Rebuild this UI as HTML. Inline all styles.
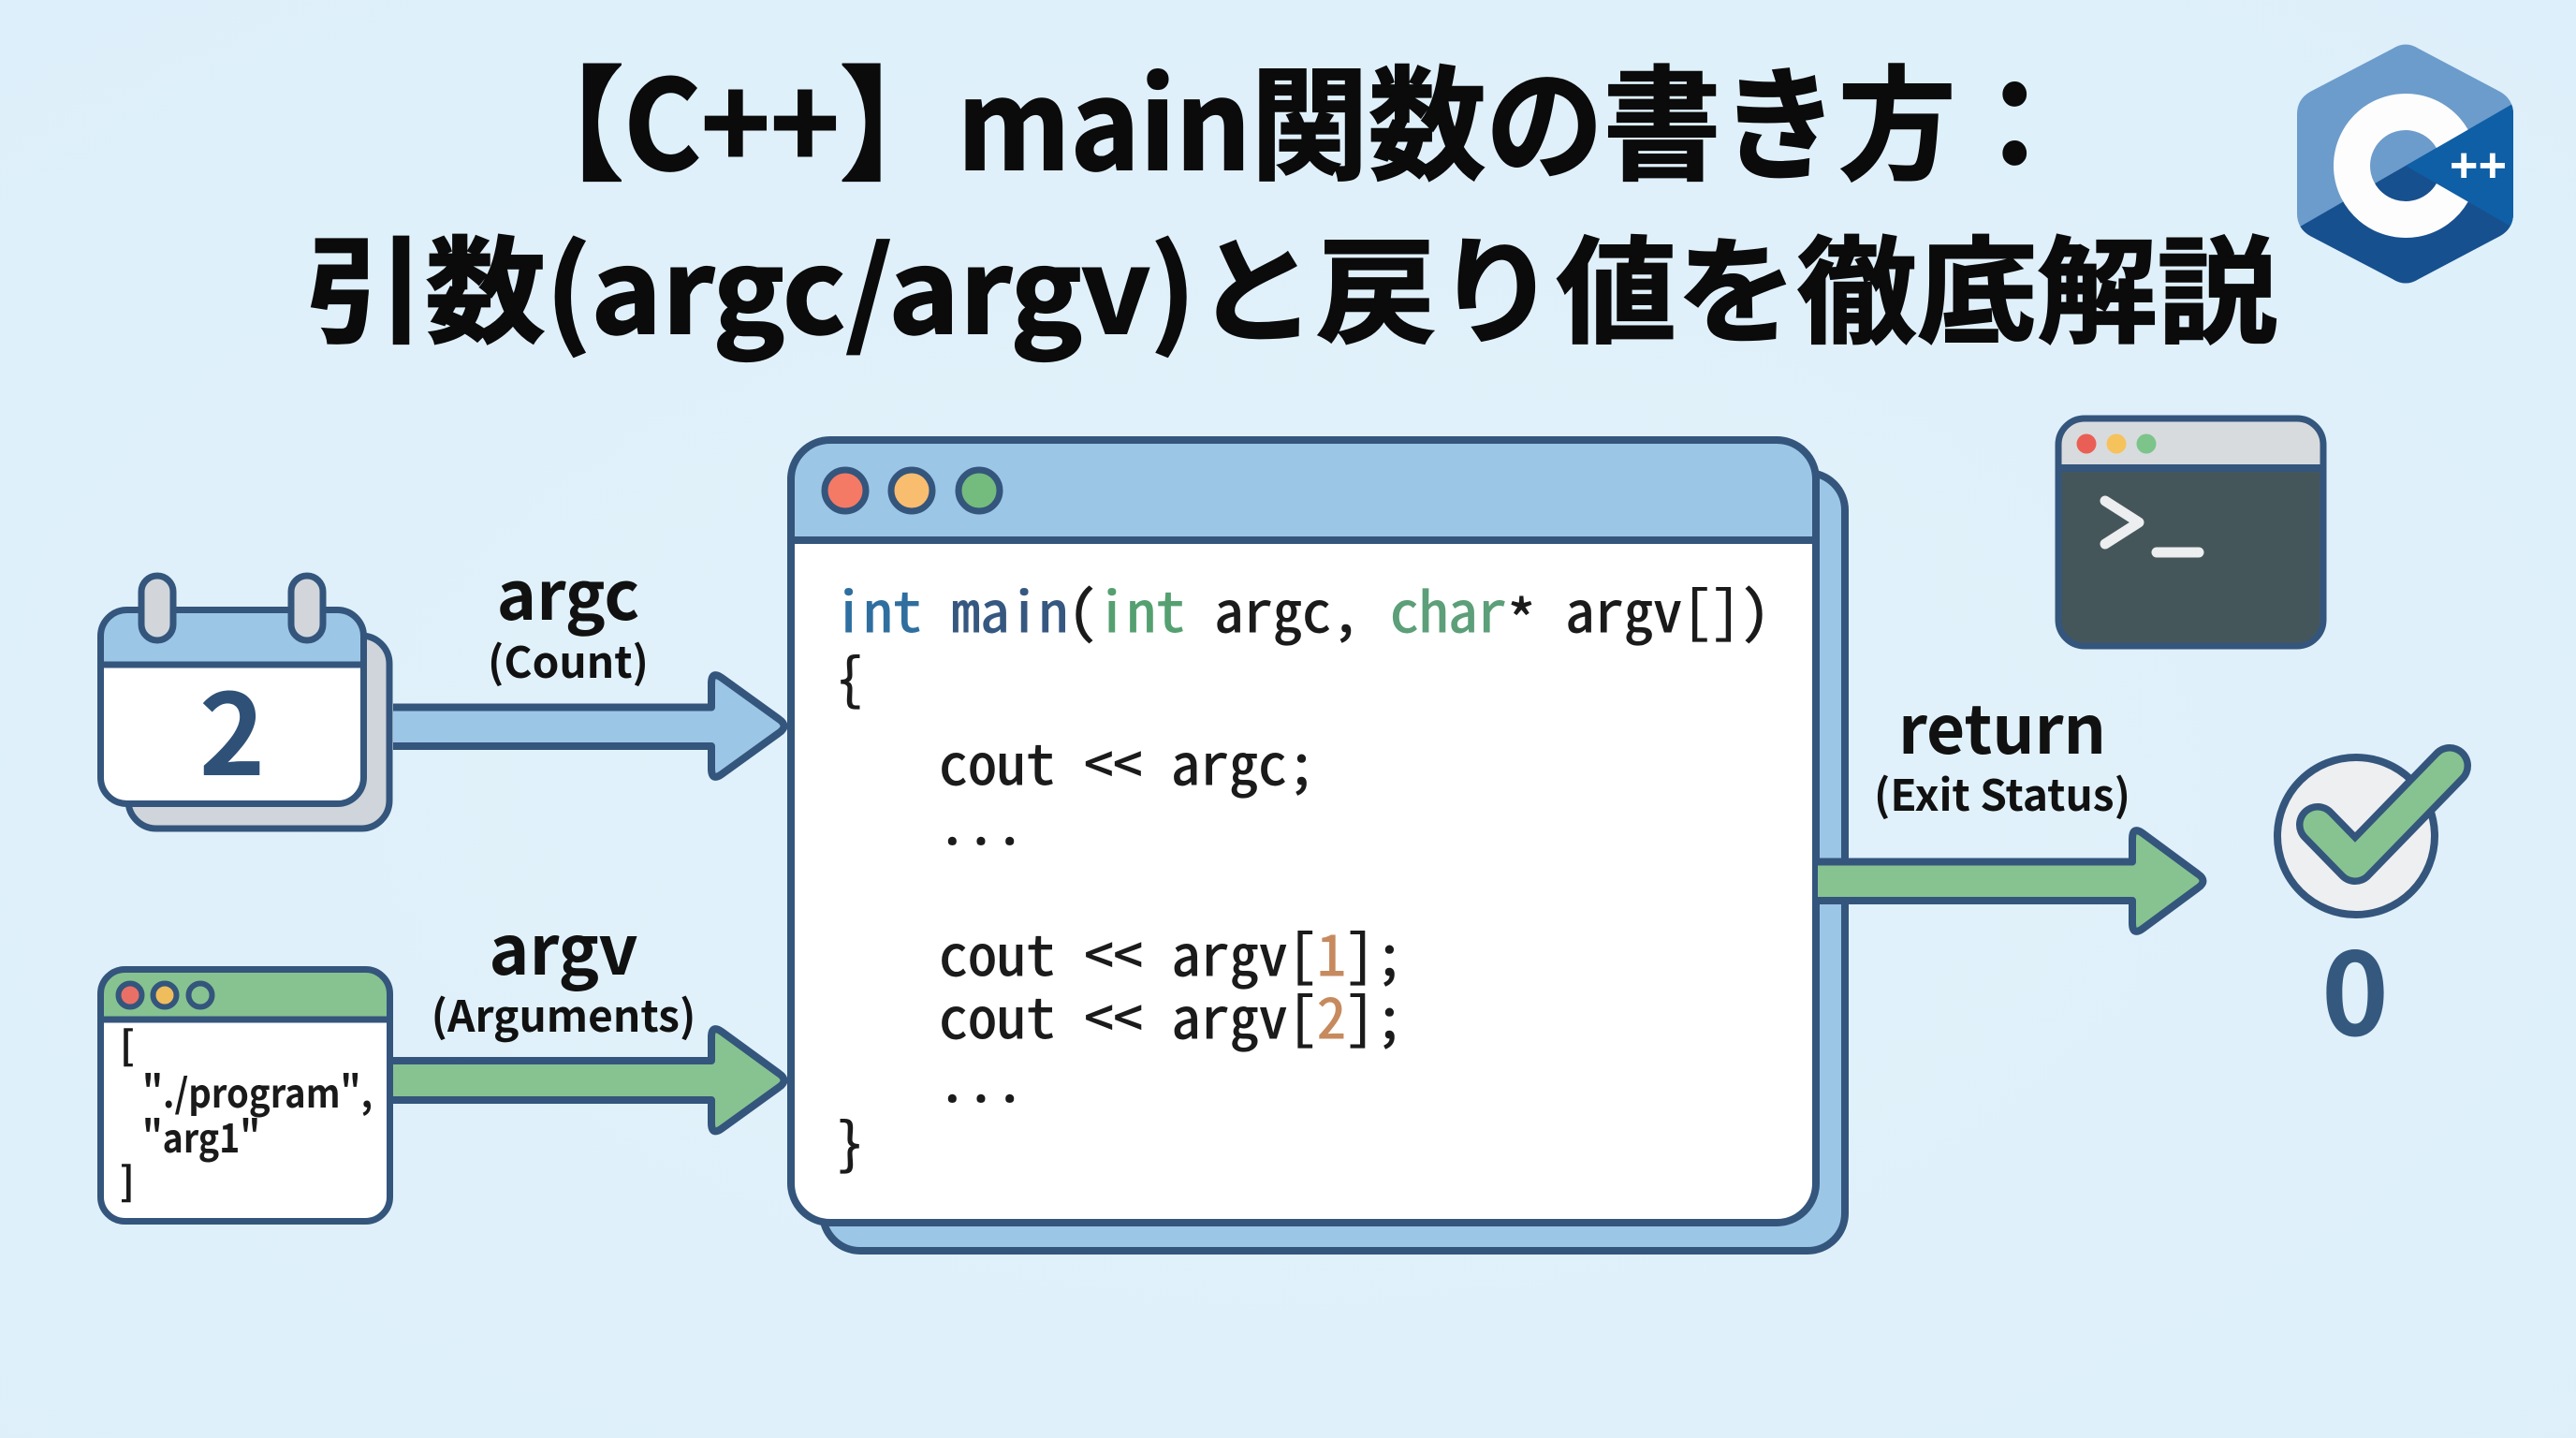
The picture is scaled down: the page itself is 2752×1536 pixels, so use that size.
<!DOCTYPE html>
<html lang="ja"><head><meta charset="utf-8"><title>C++ main</title>
<style>
html,body{margin:0;padding:0;background:#dff0fa}
svg{display:block}
.n{font-family:"Noto Sans CJK JP","Liberation Sans",sans-serif;font-weight:700}
.m{font-family:"Noto Sans Mono CJK JP","DejaVu Sans Mono","Liberation Mono",monospace;font-size:60px;fill:#1b1b1b;stroke:#1b1b1b;stroke-width:.9px}
.s{font-family:"Noto Sans CJK JP","Liberation Sans",sans-serif;font-weight:700;font-size:42px;fill:#1a1a1a}
</style></head><body>
<svg xmlns="http://www.w3.org/2000/svg" width="2752" height="1536" viewBox="0 0 2752 1536">
<defs>
<radialGradient id="bg" cx="50%" cy="55%" r="75%"><stop offset="0" stop-color="#e2f2fb"/><stop offset="1" stop-color="#ddeffa"/></radialGradient>
<clipPath id="hex"><path d="M2454 122 Q2454 106 2468 98 L2556 52 Q2570 43 2584 52 L2671 98 Q2685 106 2685 122 V228 Q2685 244 2671 252 L2584 298 Q2570 307 2556 298 L2468 252 Q2454 244 2454 228 Z"/></clipPath>
</defs>
<rect width="2752" height="1536" fill="url(#bg)"/>

<!-- title -->
<text class="n" x="541" y="181" font-size="132" fill="#0b0b0b" stroke="#0b0b0b" stroke-width="2" textLength="1674" lengthAdjust="spacingAndGlyphs">【C++】main関数の書き方：</text>
<text class="n" x="326" y="356" font-size="124" fill="#0b0b0b" stroke="#0b0b0b" stroke-width="2" textLength="2107" lengthAdjust="spacingAndGlyphs">引数(argc/argv)と戻り値を徹底解説</text>

<!-- C++ logo -->
<g clip-path="url(#hex)">
<rect x="2440" y="30" width="260" height="290" fill="#6c9ccb"/>
<path d="M2570 177 L2700 102 V320 H2440 V252 Z" fill="#17508f"/>
<path d="M2570 177 L2700 102 V252 Z" fill="#0f5fa6"/>
</g>
<path d="M2619.8 148.25 A57.5 57.5 0 1 0 2619.8 205.75" fill="none" stroke="#fdfdfd" stroke-width="39"/>
<text x="2617" y="194" font-family="Liberation Sans,sans-serif" font-weight="700" font-size="52" fill="#fff" textLength="61" lengthAdjust="spacing">++</text>

<!-- calendar -->
<rect x="137" y="679" width="279" height="206" rx="30" fill="#d0d5db" stroke="#34557c" stroke-width="7"/>
<rect x="107.5" y="651.5" width="281" height="207" rx="28" fill="#fff"/>
<path d="M107.5 710 V679.5 A28 28 0 0 1 135.5 651.5 H360.5 A28 28 0 0 1 388.5 679.5 V710 Z" fill="#9cc6e6"/>
<rect x="107.5" y="651.5" width="281" height="207" rx="28" fill="none" stroke="#34557c" stroke-width="7"/>
<path d="M107.5 710 H388.5" stroke="#34557c" stroke-width="7"/>
<rect x="151" y="615" width="34" height="69" rx="17" fill="#d2d6db" stroke="#34557c" stroke-width="7"/>
<rect x="311" y="615" width="34" height="69" rx="17" fill="#d2d6db" stroke="#34557c" stroke-width="7"/>
<text x="248" y="828" text-anchor="middle" class="n" font-size="120" fill="#2f5178">2</text>

<!-- args window -->
<rect x="107.5" y="1035.5" width="309" height="269" rx="26" fill="#fff"/>
<path d="M107.5 1089 V1061.5 A26 26 0 0 1 133.5 1035.5 H390.5 A26 26 0 0 1 416.5 1061.5 V1089 Z" fill="#87c391"/>
<rect x="107.5" y="1035.5" width="309" height="269" rx="26" fill="none" stroke="#34557c" stroke-width="7"/>
<path d="M107.5 1089 H416.5" stroke="#34557c" stroke-width="7"/>
<circle cx="139" cy="1063" r="12.5" fill="#ea7066" stroke="#34557c" stroke-width="6"/>
<circle cx="176" cy="1063" r="12.5" fill="#f0bd5c" stroke="#34557c" stroke-width="6"/>
<circle cx="214" cy="1063" r="12.5" fill="#87c391" stroke="#34557c" stroke-width="6"/>
<text class="s" x="128" y="1132">[</text>
<text class="s" x="152" y="1183" textLength="246" lengthAdjust="spacingAndGlyphs">"./program",</text>
<text class="s" x="152" y="1231" textLength="126" lengthAdjust="spacingAndGlyphs">"arg1"</text>
<text class="s" x="128" y="1277">]</text>

<!-- main window back -->
<path d="M1900 505 H1931 A40 40 0 0 1 1971 545 V1296 A40 40 0 0 1 1931 1336 H919 A40 40 0 0 1 879 1296 V1200 H1900 Z" fill="#9cc6e6" stroke="#34557c" stroke-width="8"/>

<!-- arrows -->
<path d="M420 755.5 H760 V730 Q760 716 771 724 L832 768 Q843 775.5 832 783 L771 827 Q760 835 760 821 V797 H420" fill="#9cc6e6" stroke="#34557c" stroke-width="8" stroke-linejoin="round"/>
<path d="M420 1133 H760 V1108 Q760 1094 771 1102 L832 1146.5 Q843 1154 832 1161.5 L771 1205.5 Q760 1213.5 760 1199.5 V1175 H420" fill="#87c391" stroke="#34557c" stroke-width="8" stroke-linejoin="round"/>

<!-- main window front -->
<rect x="845" y="470" width="1095" height="836" rx="42" fill="#fff"/>
<path d="M845 577 V512 A42 42 0 0 1 887 470 H1898 A42 42 0 0 1 1940 512 V577 Z" fill="#9cc6e6"/>
<rect x="845" y="470" width="1095" height="836" rx="42" fill="none" stroke="#34557c" stroke-width="8"/>
<path d="M845 577 H1940" stroke="#34557c" stroke-width="8"/>
<circle cx="903" cy="524" r="22" fill="#f47a66" stroke="#34557c" stroke-width="7"/>
<circle cx="974" cy="524" r="22" fill="#f9bd6f" stroke="#34557c" stroke-width="7"/>
<circle cx="1046" cy="524" r="22" fill="#74bb7e" stroke="#34557c" stroke-width="7"/>

<!-- code -->
<text class="m" x="891" y="675" textLength="1000" lengthAdjust="spacingAndGlyphs"><tspan fill="#2f6fa0" stroke="#2f6fa0">int</tspan> <tspan fill="#365880" stroke="#365880">main</tspan>(<tspan fill="#55a070" stroke="#55a070">int</tspan> argc, <tspan fill="#5c9f78" stroke="#5c9f78">char</tspan><tspan dy="10">*</tspan><tspan dy="-10"> argv[])</tspan></text>
<text class="m" x="893" y="747">{</text>
<text class="m" x="1003" y="838" textLength="403" lengthAdjust="spacingAndGlyphs">cout &lt;&lt; argc;</text>
<text class="m" x="1002" y="902" textLength="92" lengthAdjust="spacingAndGlyphs">...</text>
<text class="m" x="1003" y="1042" textLength="497" lengthAdjust="spacingAndGlyphs">cout &lt;&lt; argv[<tspan fill="#c68a5e" stroke="#c68a5e">1</tspan>];</text>
<text class="m" x="1003" y="1109" textLength="497" lengthAdjust="spacingAndGlyphs">cout &lt;&lt; argv[<tspan fill="#c68a5e" stroke="#c68a5e">2</tspan>];</text>
<text class="m" x="1002" y="1177" textLength="92" lengthAdjust="spacingAndGlyphs">...</text>
<text class="m" x="893" y="1243">}</text>

<!-- return arrow -->
<path d="M1942 920.5 H2278 V896 Q2278 882 2289 890 L2348 933.5 Q2359 941 2348 948.5 L2289 992 Q2278 1000 2278 986 V962 H1942" fill="#87c391" stroke="#34557c" stroke-width="8" stroke-linejoin="round"/>

<!-- terminal -->
<rect x="2199" y="447" width="283" height="243" rx="28" fill="#45565b"/>
<path d="M2199 500 V475 A28 28 0 0 1 2227 447 H2454 A28 28 0 0 1 2482 475 V500 Z" fill="#d8dbde"/>
<rect x="2199" y="447" width="283" height="243" rx="28" fill="none" stroke="#34557c" stroke-width="7"/>
<path d="M2199 500 H2482" stroke="#34557c" stroke-width="8"/>
<circle cx="2229" cy="474" r="10.5" fill="#ea5f55"/>
<circle cx="2261" cy="474" r="10.5" fill="#f6c25c"/>
<circle cx="2293" cy="474" r="10.5" fill="#7cc48a"/>
<path d="M2249 535 L2285 558 L2249 581" fill="none" stroke="#eceeef" stroke-width="11" stroke-linecap="round" stroke-linejoin="round"/>
<path d="M2304 590 H2349" stroke="#eceeef" stroke-width="11" stroke-linecap="round"/>

<!-- check -->
<circle cx="2517" cy="893" r="84" fill="#eeeff0" stroke="#34557c" stroke-width="8"/>
<path d="M2476 881 L2516 922 L2617 818" fill="none" stroke="#34557c" stroke-width="46" stroke-linecap="round" stroke-linejoin="round"/>
<path d="M2476 881 L2516 922 L2617 818" fill="none" stroke="#87c391" stroke-width="31" stroke-linecap="round" stroke-linejoin="round"/>
<text x="2516" y="1106" text-anchor="middle" class="n" font-size="122" fill="#35587f">0</text>

<!-- labels -->
<text class="n" x="607" y="662" text-anchor="middle" font-size="72" fill="#111">argc</text>
<text class="n" x="607" y="724" text-anchor="middle" font-size="46" fill="#111">(Count)</text>
<text class="n" x="602" y="1041" text-anchor="middle" font-size="73" fill="#111">argv</text>
<text class="n" x="602" y="1102" text-anchor="middle" font-size="46" fill="#111">(Arguments)</text>
<text class="n" x="2139" y="805" text-anchor="middle" font-size="71" fill="#111">return</text>
<text class="n" x="2139" y="866" text-anchor="middle" font-size="46" fill="#111">(Exit Status)</text>
</svg>
</body></html>
